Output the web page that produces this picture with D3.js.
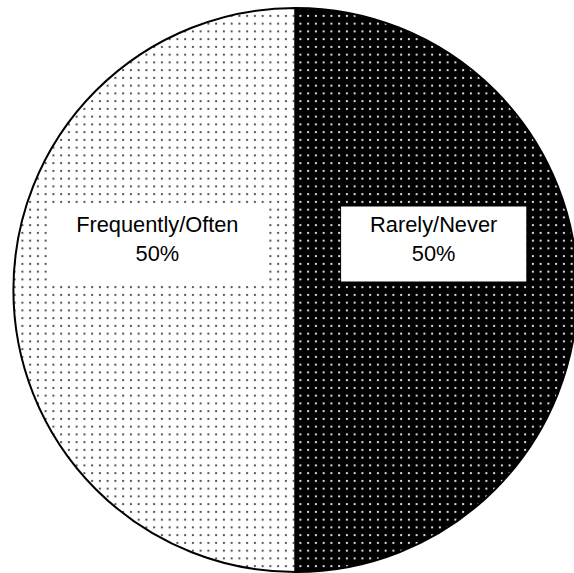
<!DOCTYPE html>
<html><head><meta charset="utf-8">
<script src="https://cdn.jsdelivr.net/npm/d3@7"></script>
<style>body{margin:0;background:#fff;}svg{display:block;}</style>
</head><body>
<script>
const categories = ["Frequently/Often", "Rarely/Never"];
const values = [50, 50];
const labels = ["50%", "50%"];

const W = 574, H = 573;
const cx = 295.5, cy = 290, R = 282;
const svg = d3.select("body").append("svg").attr("width", W).attr("height", H);
const defs = svg.append("defs");
const tile = 7.75;
const p1 = defs.append("pattern").attr("id","light").attr("patternUnits","userSpaceOnUse")
  .attr("width",tile).attr("height",tile).attr("x",2).attr("y",1);
p1.append("rect").attr("width",tile).attr("height",tile).attr("fill","#fff");
p1.append("rect").attr("x",2.9).attr("y",2.9).attr("width",2).attr("height",2).attr("fill","#555");
const p2 = defs.append("pattern").attr("id","dark").attr("patternUnits","userSpaceOnUse")
  .attr("width",tile).attr("height",tile).attr("x",1).attr("y",1);
p2.append("rect").attr("width",tile).attr("height",tile).attr("fill","#000");
p2.append("rect").attr("x",2.9).attr("y",2.9).attr("width",2).attr("height",2).attr("fill","#ddd");
const fills = ["url(#light)", "url(#dark)"];

const pie = d3.pie().sort(null).startAngle(Math.PI*2).endAngle(0);
const arcs = pie(values);
const arc = d3.arc().innerRadius(0).outerRadius(R);
const g = svg.append("g").attr("transform", `translate(${cx},${cy})`);
g.selectAll("path.slice").data(arcs).join("path").attr("class","slice")
  .attr("d", arc).attr("fill", (d,i)=>fills[i])
  .attr("stroke","#000").attr("stroke-width",2);

const labelArc = d3.arc().innerRadius(0.49*R*2).outerRadius(0);
const fs = 21.8;
arcs.forEach((d,i)=>{
  const [lx, ly0] = labelArc.centroid(d);
  const ly = ly0 - 46;
  const lg = g.append("g").attr("transform", `translate(${lx},${ly})`);
  const t1 = lg.append("text").attr("text-anchor","middle").attr("y",-12.5)
    .attr("font-family","'Liberation Sans', Arial, sans-serif").attr("font-size",fs).attr("fill","#000")
    .text(categories[i]);
  const w = t1.node().getComputedTextLength();
  lg.insert("rect","text").attr("x",-w/2-29).attr("y",-37.5).attr("width",w+58).attr("height",75).attr("fill","#fff");
  lg.append("text").attr("text-anchor","middle").attr("y",16.5)
    .attr("font-family","'Liberation Sans', Arial, sans-serif").attr("font-size",fs).attr("fill","#000")
    .text(labels[i]);
});
</script>
</body></html>
